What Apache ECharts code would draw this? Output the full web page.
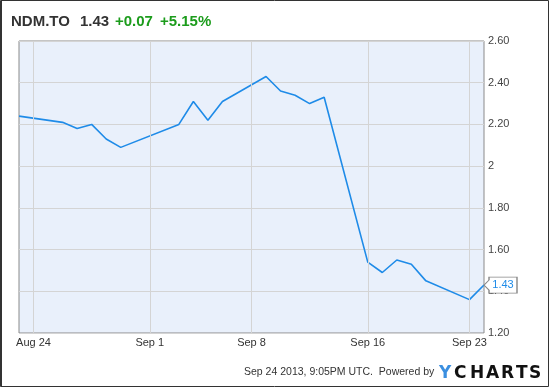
<!DOCTYPE html>
<html>
<head>
<meta charset="utf-8">
<script src="https://cdn.jsdelivr.net/npm/echarts@6/dist/echarts.min.js"></script>
<style>
html,body{margin:0;padding:0;background:#fff;}
#chart{width:550px;height:388px;}
</style>
</head>
<body>
<div id="chart"></div>
<script>
// ---- data ----
var dates = ['2013-08-23','2013-08-26','2013-08-27','2013-08-28','2013-08-29','2013-08-30',
  '2013-09-03','2013-09-04','2013-09-05','2013-09-06','2013-09-09','2013-09-10','2013-09-11',
  '2013-09-12','2013-09-13','2013-09-16','2013-09-17','2013-09-18','2013-09-19','2013-09-20',
  '2013-09-23','2013-09-24'];
var prices = [2.24,2.21,2.18,2.20,2.13,2.09,2.20,2.31,2.22,2.31,2.43,2.36,2.34,2.30,2.33,
  1.54,1.49,1.55,1.53,1.45,1.36,1.43];
var xTickDates = ['2013-08-24','2013-09-01','2013-09-08','2013-09-16','2013-09-23'];
var xTickLabels = ['Aug 24','Sep 1','Sep 8','Sep 16','Sep 23'];
var yTickValues = [1.2,1.4,1.6,1.8,2.0,2.2,2.4,2.6];
var yTickLabels = ['1.20','1.40','1.60','1.80','2','2.20','2.40','2.60'];
var xMin = '2013-08-23', xMax = '2013-09-24';
var ticker = 'NDM.TO', lastPrice = '1.43', change = '+0.07', changePct = '+5.15%';

function ts(s){ var p = s.split('-'); return new Date(+p[0], +p[1]-1, +p[2]).getTime(); }

var chart = echarts.init(document.getElementById('chart'), null, {renderer:'canvas'});
var seriesData = dates.map(function(d,i){ return [ts(d), prices[i]]; });
var tickTs = xTickDates.map(ts);
var last = seriesData[seriesData.length-1];
var FONT = '"Liberation Sans", Arial, sans-serif';
var LOGO = 'bold 17px "DejaVu Sans", sans-serif';

var option = {
  animation: false,
  grid: {left: 19, right: 66, top: 41, bottom: 55, show: true,
         backgroundColor: '#e9f0fb', borderColor: '#8a8a8a', borderWidth: 1},
  xAxis: {
    type: 'time', min: ts(xMin), max: ts(xMax),
    axisLine: {show: false}, axisTick: {show: false}, splitLine: {show: false},
    axisLabel: {show: false}
  },
  yAxis: {
    type: 'value', position: 'right', min: 1.2, max: 2.6, interval: 0.2,
    axisLine: {show: false}, axisTick: {show: false},
    splitLine: {show: true, lineStyle: {color: '#d4d4d4', width: 1}},
    axisLabel: {
      margin: 4, color: '#444', fontSize: 11, fontFamily: FONT,
      formatter: function(v){
        for (var i=0;i<yTickValues.length;i++){ if (Math.abs(yTickValues[i]-v) < 1e-6) return yTickLabels[i]; }
        return '';
      }
    }
  },
  series: [{
    type: 'line', data: seriesData, showSymbol: false, symbol: 'none',
    lineStyle: {color: '#1e8be8', width: 1.6}, clip: false, z: 3,
    markLine: {
      silent: true, symbol: ['none','none'],
      lineStyle: {color: '#d4d4d4', width: 1, type: 'solid'},
      label: {show: true, position: 'start', distance: 4, color: '#333', fontSize: 11, fontFamily: FONT,
              formatter: function(p){ return xTickLabels[p.dataIndex]; }},
      data: tickTs.map(function(t){ return {xAxis: t}; })
    },
    markPoint: {
      silent: true, z: 10,
      symbol: 'path://M0,8 L5,3 L5,0 L33,0 L33,16 L5,16 L5,13 Z',
      symbolSize: [33, 16], symbolOffset: [16.5, 0], symbolKeepAspect: false,
      itemStyle: {color: '#fff', borderColor: '#888', borderWidth: 1},
      label: {show: true, position: 'inside', offset: [2.5, 0], color: '#1e8be8',
              fontSize: 11, fontFamily: FONT, formatter: lastPrice},
      data: [{coord: last}]
    }
  }],
  graphic: [
    {type: 'rect', silent: true, z: 100, shape: {x: 0.5, y: 0.5, width: 548, height: 386},
     style: {fill: 'none', stroke: '#333', lineWidth: 1}},
    {type: 'line', silent: true, z: 100, shape: {x1: 1.5, y1: 0, x2: 1.5, y2: 387},
     style: {stroke: '#333', lineWidth: 1}},
    {type: 'text', left: 11, top: 14, style: {text: ticker, fill: '#333', font: 'bold 15px ' + FONT}},
    {type: 'text', left: 80, top: 14, style: {text: lastPrice, fill: '#333', font: 'bold 15px ' + FONT}},
    {type: 'text', left: 115, top: 14, style: {text: change, fill: '#1c9c1c', font: 'bold 15px ' + FONT}},
    {type: 'text', left: 160, top: 14, style: {text: changePct, fill: '#1c9c1c', font: 'bold 15px ' + FONT}},
    {type: 'text', left: 244, top: 367, style: {text: 'Sep 24 2013, 9:05PM UTC.  Powered by', fill: '#333', font: '10.5px ' + FONT}},
    {type: 'text', left: 439, top: 365, z: 101, style: {text: 'Y', fill: '#3b8fe0', font: LOGO}},
    {type: 'text', left: 454, top: 365, style: {text: 'C', fill: '#111', font: LOGO}},
    {type: 'text', left: 470, top: 365, style: {text: 'H', fill: '#111', font: LOGO}},
    {type: 'text', left: 486, top: 365, style: {text: 'A', fill: '#111', font: LOGO}},
    {type: 'text', left: 501, top: 365, style: {text: 'R', fill: '#111', font: LOGO}},
    {type: 'text', left: 516, top: 365, style: {text: 'T', fill: '#111', font: LOGO}},
    {type: 'text', left: 529, top: 365, style: {text: 'S', fill: '#111', font: LOGO}}
  ]
};
chart.setOption(option);
</script>
</body>
</html>
